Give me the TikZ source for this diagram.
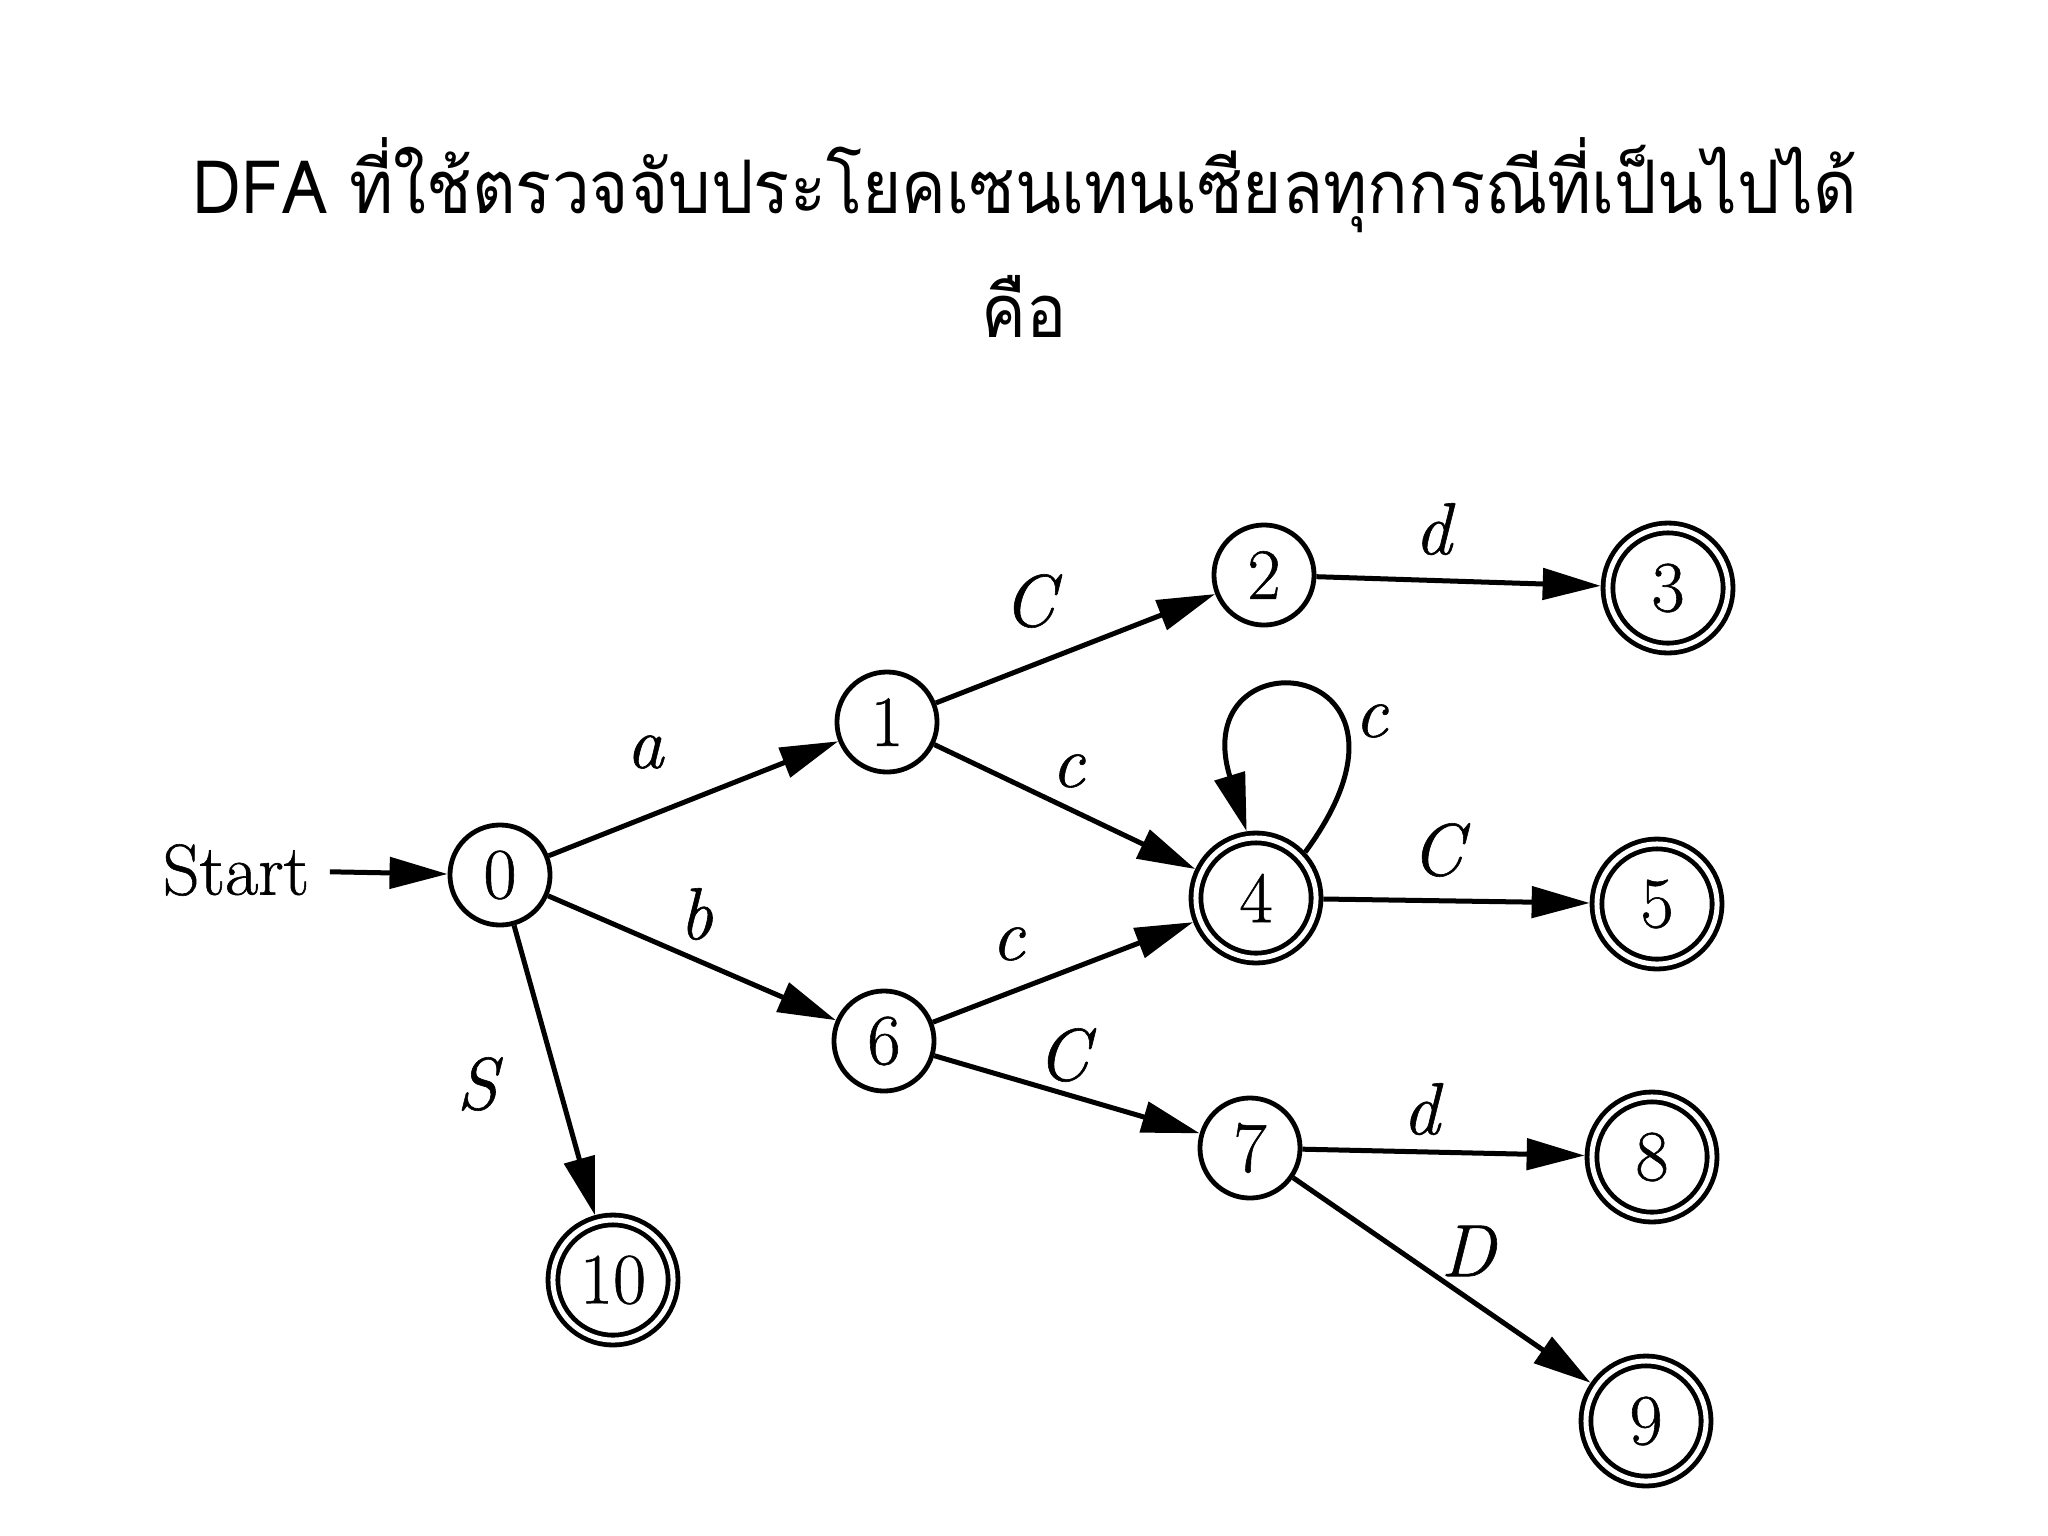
\documentclass[tikz,border=0pt]{standalone}
\usepackage{fontspec}
\usepackage{graphicx}
\newfontfamily\thaifont[Script=Thai]{Loma}
\newfontfamily\lmfat[FakeBold=0.8]{Latin Modern Roman}
\usetikzlibrary{arrows.meta}
\begin{document}
\begin{tikzpicture}[x=0.01cm,y=-0.01cm,
  every node/.style={inner sep=0pt},
  state/.style={circle, draw, line width=0.048cm, minimum size=1cm, outer sep=0.024cm, font=\lmfat\fontsize{20.5}{22}\selectfont},
  accept/.style={circle, draw, line width=0.048cm, double, double distance=0.05cm, minimum size=1.2cm, outer sep=0.073cm, font=\lmfat\fontsize{20.5}{22}\selectfont},
  trans/.style={line width=0.05cm, -{Triangle[length=0.58cm,width=0.31cm]}},
  lab/.style={font=\lmfat\itshape\fontsize{21}{24}\selectfont},
  ttl/.style={anchor=base, font=\thaifont\fontsize{21}{26}\selectfont}
]
\useasboundingbox (0,0) rectangle (2048,1536);
\fill[white] (0,0) rectangle (2048,1536);

% title
\node[ttl] (t1) at (1025,213) {\scalebox{0.91}[1]{DFA ที่ใช้ตรวจจับประโยคเซนเทนเซียลทุกกรณีที่เป็นไปได้}};
\node[ttl] (t2) at (1024,337) {\scalebox{0.91}[1]{คือ}};

% states
\node[font=\lmfat\fontsize{20.5}{22}\selectfont] (start) at (236,870) {Start};
\node[state]  (n0)  at (500,875)  {0};
\node[state]  (n1)  at (887,722)  {1};
\node[state]  (n2)  at (1264,575) {2};
\node[accept] (n3)  at (1668,588) {3};
\node[accept] (n4)  at (1256,898) {4};
\node[accept] (n5)  at (1657,904) {5};
\node[state]  (n6)  at (884,1041) {6};
\node[state]  (n7)  at (1250,1148) {7};
\node[accept] (n8)  at (1652,1157) {8};
\node[accept] (n9)  at (1646,1421) {9};
\node[accept] (n10) at (613,1280) {10};

% transitions
\draw[trans, shorten <=0.2cm] (start) -- (n0);
\draw[trans] (n0) -- (n1);
\draw[trans] (n0) -- (n6);
\draw[trans] (n0) -- (n10);
\draw[trans] (n1) -- (n2);
\draw[trans] (n1) -- (n4);
\draw[trans] (n2) -- (n3);
\draw[trans] (n4.43) .. controls (1450,655) and (1185,630) .. (n4.98);
\draw[trans] (n4) -- (n5);
\draw[trans] (n6) -- (n4);
\draw[trans] (n6) -- (n7);
\draw[trans] (n7) -- (n8);
\draw[trans] (n7) -- (n9);

% labels
\node[lab] (la)  at (645,752)   {a};
\node[lab] (lb)  at (696,914)   {b};
\node[lab] (lS)  at (477,1084)  {S};
\node[lab] (l12) at (1029,601)  {C};
\node[lab] (l14) at (1068,771)  {c};
\node[lab] (l44) at (1371,721)  {c};
\node[lab] (l45) at (1437,850)  {C};
\node[lab] (l23) at (1433,529)  {d};
\node[lab] (l64) at (1008,944)  {c};
\node[lab] (l67) at (1063,1055) {C};
\node[lab] (l78) at (1421,1109) {d};
\node[lab] (l79) at (1468,1251) {D};
\end{tikzpicture}
\end{document}
